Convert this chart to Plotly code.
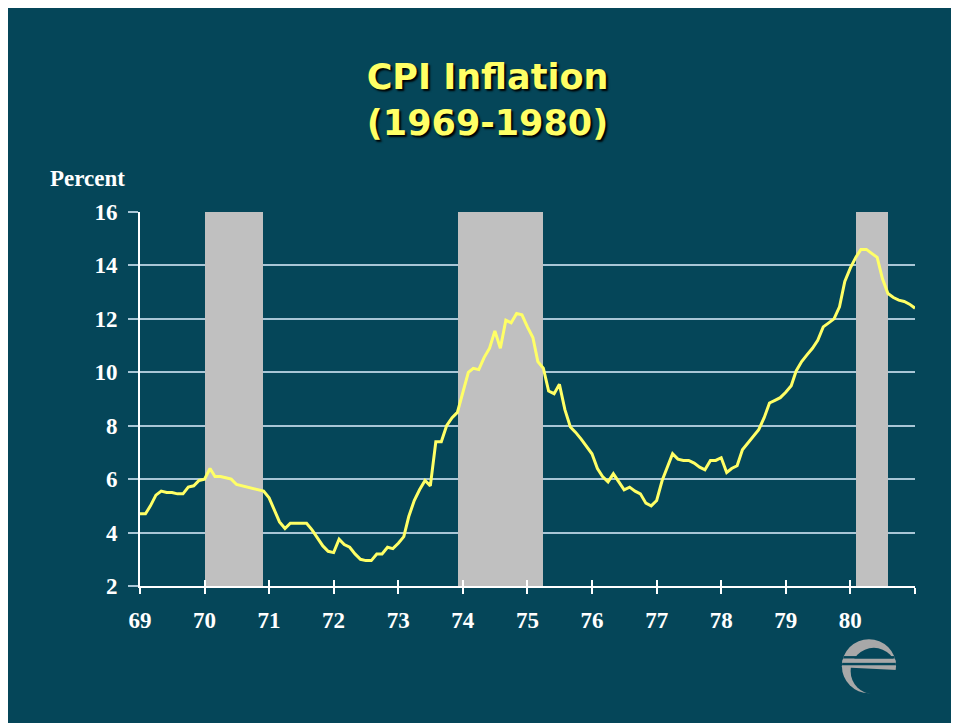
import base64
import pandas as pd
import plotly.graph_objects as go

# CPI inflation, percent, monthly Jan 1969 - Jan 1981
cpi = [
    4.7, 4.7, 5.0, 5.4, 5.55, 5.5, 5.5, 5.45, 5.45, 5.7, 5.75, 5.95,      # 1969
    6.0, 6.4, 6.1, 6.1, 6.05, 6.0, 5.8, 5.75, 5.7, 5.65, 5.6, 5.55,       # 1970
    5.3, 4.8, 4.4, 4.15, 4.35, 4.35, 4.35, 4.35, 4.1, 3.8, 3.5, 3.3,      # 1971
    3.25, 3.75, 3.55, 3.45, 3.2, 3.0, 2.95, 2.95, 3.2, 3.2, 3.45, 3.4,    # 1972
    3.6, 3.85, 4.6, 5.2, 5.6, 5.95, 5.75, 7.4, 7.4, 8.0, 8.3, 8.5,        # 1973
    9.3, 10.0, 10.15, 10.1, 10.55, 10.9, 11.55, 10.9, 11.95, 11.85, 12.2, 12.15,  # 1974
    11.7, 11.3, 10.4, 10.15, 9.3, 9.2, 9.55, 8.6, 7.95, 7.75, 7.5, 7.25,  # 1975
    6.95, 6.4, 6.1, 5.9, 6.2, 5.9, 5.6, 5.7, 5.55, 5.45, 5.1, 5.0,        # 1976
    5.2, 5.95, 6.45, 6.95, 6.75, 6.7, 6.7, 6.6, 6.45, 6.35, 6.7, 6.7,     # 1977
    6.8, 6.25, 6.4, 6.5, 7.1, 7.35, 7.6, 7.85, 8.3, 8.85, 8.95, 9.05,     # 1978
    9.25, 9.5, 10.05, 10.4, 10.65, 10.9, 11.2, 11.7, 11.85, 12.0, 12.45, 13.4,  # 1979
    13.9, 14.3, 14.6, 14.6, 14.45, 14.3, 13.5, 12.95, 12.8, 12.7, 12.65, 12.55,  # 1980
    12.4,                                                                  # Jan 1981
]
months = pd.date_range("1969-01-01", periods=len(cpi), freq="MS")

# recessions (shaded), bars run from the axis to just above the top gridline
rec_start = pd.to_datetime(["1970-01-01", "1973-12-05", "1980-02-01"])
rec_end = pd.to_datetime(["1970-11-28", "1975-04-01", "1980-08-03"])
rec_base = 2
rec_top = 16.2

year_ticks = [f"{y}-01-01" for y in range(1969, 1982)]
year_labels = [str(y)[2:] for y in range(1969, 1981)] + [""]
y_ticks = [2, 4, 6, 8, 10, 12, 14, 16]

BG = "#054659"
GRID = "#A9C6D6"
YELLOW = "#FFFF66"

fig = go.Figure()
rec_len = rec_end - rec_start
fig.add_trace(go.Bar(
    x=rec_start + rec_len / 2, y=[rec_top - rec_base] * len(rec_start), base=rec_base,
    width=[d.total_seconds() * 1000 for d in rec_len],
    marker=dict(color="#C0C0C0", line=dict(width=0)),
    cliponaxis=False, hoverinfo="skip"))
fig.add_trace(go.Scatter(x=months, y=cpi, mode="lines",
                         line=dict(color=YELLOW, width=3), hoverinfo="x+y"))
# dummy trace so the overlay axis (inner half of the x ticks) gets drawn
fig.add_trace(go.Scatter(x=months[:1], y=[None], xaxis="x2", showlegend=False,
                         hoverinfo="skip"))

# logo
svg = (
    "<svg xmlns='http://www.w3.org/2000/svg' viewBox='0 0 60 60'>"
    "<defs><mask id='m'><rect width='60' height='60' fill='white'/>"
    "<circle cx='35' cy='35' r='24' fill='black'/></mask>"
    "<clipPath id='c'><circle cx='30' cy='30' r='28'/></clipPath></defs>"
    "<circle cx='30' cy='30' r='28' fill='#A8A8A8' mask='url(#m)'/>"
    "<g clip-path='url(#c)'>"
    "<polygon points='0,22 60,22 60,34 0,31' fill='#A8A8A8'/>"
    f"<rect x='0' y='19.5' width='60' height='2.5' fill='{BG}'/>"
    f"<rect x='0' y='26.5' width='60' height='2.5' fill='{BG}'/>"
    "</g></svg>"
)
fig.add_layout_image(dict(
    source="data:image/svg+xml;base64," + base64.b64encode(svg.encode()).decode(),
    xref="paper", yref="paper", x=0.9032, y=-0.137, sizex=0.0748, sizey=0.155,
    xanchor="left", yanchor="top", sizing="contain", layer="above"))

tickfont = dict(family="Liberation Serif", size=23, color="white", weight="bold")

fig.update_layout(
    width=959, height=723,
    margin=dict(l=132, r=52, t=204, b=145),
    paper_bgcolor=BG,
    plot_bgcolor=BG,
    showlegend=False,
    bargap=0,
    title=dict(
        text="CPI Inflation<br>(1969-1980)",
        x=0.5, xanchor="center", y=0.8873, yanchor="middle",
        font=dict(family="DejaVu Sans", size=35, color=YELLOW, weight="bold",
                  shadow="2px 2px 2px #000000"),
    ),
    xaxis=dict(
        type="date", range=["1969-01-01", "1981-01-01"],
        tickvals=year_ticks, ticktext=year_labels,
        ticks="outside", ticklen=6, tickwidth=2, tickcolor="white",
        showline=True, linecolor="white", linewidth=2,
        showgrid=False, zeroline=False, tickfont=tickfont,
        ticklabelstandoff=6,
    ),
    xaxis2=dict(
        type="date", range=["1969-01-01", "1981-01-01"], overlaying="x", anchor="y",
        tickvals=year_ticks, ticks="inside", ticklen=6, tickwidth=2, tickcolor="white",
        showticklabels=False, showline=False, showgrid=False, zeroline=False,
    ),
    yaxis=dict(
        range=[2, 16], tickvals=y_ticks,
        ticks="outside", ticklen=10, tickwidth=2, tickcolor=GRID,
        showline=True, linecolor="white", linewidth=2,
        showgrid=True, gridcolor=GRID, gridwidth=1.5, zeroline=False,
        tickfont=tickfont, ticklabelstandoff=6,
    ),
    annotations=[dict(
        text="Percent", xref="paper", yref="paper", x=-0.0168, y=1.09,
        xanchor="right", yanchor="middle", showarrow=False,
        font=dict(family="Liberation Serif", size=23, color="white", weight="bold"),
    )],
)

fig.write_html("out.html")
